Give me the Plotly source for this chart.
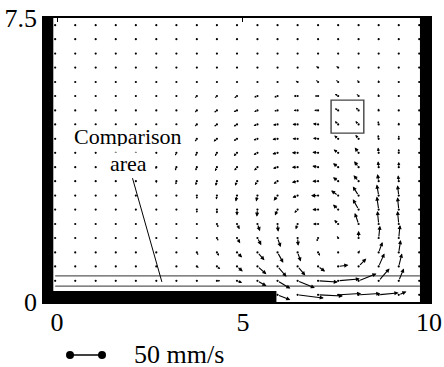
import math
import plotly.graph_objects as go

# ---------------- data ----------------
# grid positions (data units)
x_grid = [-0.05, 0.49, 1.04, 1.58, 2.12, 2.67, 3.21, 3.76, 4.30, 4.84,
          5.39, 5.93, 6.47, 7.02, 7.56, 8.11, 8.65, 9.19, 9.74]
y_grid = [7.31, 6.94, 6.56, 6.19, 5.81, 5.44, 5.06, 4.69, 4.31, 3.94,
          3.56, 3.19, 2.81, 2.44, 2.06, 1.69, 1.31, 0.94, 0.56, 0.19]

N = None
# horizontal velocity (mm/s), rows top -> bottom
U = [
    [0]*19,
    [0]*19,
    [0,0,0,0,0,0,-2,-2,-2,-2,-2,-2,-2,-2,-2,0,0,0,0],
    [0,0,0,0,0,0,-3,-3,-3,-3,-3,-3,-3,-3,-3,0,0,0,0],
    [0,0,0,0,0,0,0,-2,-3,-2,-3,-3,-3,-3,-3,-2,0,0,0],
    [0,0,0,0,0,0,-2,-3,-3,-4,-5,-5,-6,-5,-5,-3,-1,0,0],
    [0,0,0,0,0,-1,-2,-3,-4,-5,-5,-5,-6,-6,-5,-4,-1,0,0],
    [0,0,0,0,0,-1,-2,-3,-4,-5,-6,-7,-8,-8,-5,-5,-1,0,0],
    [0,0,0,0,0,-1,-2,-3,-5,-5,-6,-8,-8,-8,-6,-5,-1,0,0],
    [0,0,0,0,0,-1,-2,-2,-3,-5,-6,-8,-9,-9,-7,-6,-1,0,0],
    [0,0,0,0,0,-1,-2,-2,-3,-4,-5,-7,-9,-9,-8,-7,-1,0,0],
    [0,0,0,0,0,0,-1,-2,-2,-3,-4,-6,-9,-9,-8,-8,-2,-1,0],
    [0,0,0,0,0,0,0,0,-1,-2,-2,-6,-8,-11,-11,-9,-3,-2,0],
    [0,0,0,0,0,0,0,0,0,0,-1,-4,-5,-9,-8,-9,-3,-2,0],
    [0,0,0,0,0,0,1,2,2,4,4,1,-3,-8,-6,-6,-2,-2,0],
    [0,0,0,0,0,0,1,2,2,5,6,5,1,-2,-2,0,2,2,0],
    [0,0,0,0,0,0,2,2,3,8,11,9,5,3,0,2,6,3,0],
    [0,0,0,0,0,1,2,3,5,9,14,14,12,11,16,12,9,5,0],
    [0,0,0,1,2,2,2,3,5,8,14,20,27,31,34,28,17,8,0],
    [N,N,N,N,N,N,N,N,N,N,N,20,41,39,36,34,31,12,0],
]
# vertical velocity (mm/s), rows top -> bottom
V = [
    [0]*19,
    [0]*19,
    [0,0,0,0,0,0,0,0,0,0,0,0,0,0,2,2,0,0,0],
    [0,0,0,0,0,0,0,0,0,0,0,0,0,2,2,0,0,0,0],
    [0,0,0,0,0,0,0,0,0,0,0,0,2,3,3,3,3,0,0],
    [0,0,0,0,0,0,-2,-3,-3,-3,-2,-2,0,0,3,3,3,0,0],
    [0,0,0,0,0,-2,-2,-3,-3,-2,-2,-1,0,0,3,4,3,0,0],
    [0,0,0,0,0,-2,-2,-3,-3,-3,-2,-1,0,1,5,5,5,3,0],
    [0,0,0,0,0,-2,-3,-4,-4,-3,-2,-1,0,1,5,6,6,5,0],
    [0,0,0,0,-1,-2,-4,-5,-5,-5,-3,-2,0,1,5,8,8,6,0],
    [0,0,0,0,-2,-3,-5,-5,-6,-5,-5,-2,0,2,6,9,9,8,0],
    [0,0,0,0,-2,-3,-5,-6,-7,-7,-6,-4,-2,0,6,9,11,9,0],
    [0,0,0,0,0,0,-2,-5,-6,-9,-9,-8,-3,0,8,14,17,16,0],
    [0,0,0,0,0,0,-2,-5,-6,-9,-11,-9,-5,0,8,16,20,19,0],
    [0,0,0,0,0,0,-1,-2,-5,-8,-11,-12,-8,0,6,17,20,20,0],
    [0,0,0,0,0,0,-1,-2,-4,-8,-11,-14,-12,-5,3,11,19,20,0],
    [0,0,0,0,0,0,-2,-4,-5,-8,-12,-16,-14,-5,0,3,16,19,0],
    [0,0,0,0,0,0,-1,-2,-4,-8,-12,-16,-14,-8,2,12,20,20,0],
    [0,0,0,0,0,0,0,0,0,-3,-8,-12,-11,-2,3,11,19,19,0],
    [N,N,N,N,N,N,N,N,N,N,N,-8,-5,-2,2,2,3,5,0],
]

scale_ref = 50            # mm/s of the reference arrow
vec_scale = 0.86 / 50     # data units per mm/s
scale_x0 = 0.35           # start of reference arrow
scale_label = "50 mm/s"

x_ticks = [0, 5, 10]
y_ticks = [0, 7.5]
y_ticktext = ["0", "7.5"]

# geometry of the channel sketch (data units)
left_wall = (-0.35, -0.10)
right_wall = (9.76, 10.03)
step = (-0.35, 5.90, 0.0, 0.29)
comp_lines_y = [0.42, 0.69]
comp_lines_x = (-0.05, 9.76)
probe_box = (7.37, 8.25, 4.46, 5.33)
leader = ((2.03, 3.27), (2.82, 0.53))

FONT = "Liberation Serif"

fig = go.Figure()

# grid dots
dx, dy = [], []
for i, yv in enumerate(y_grid):
    for j, xv in enumerate(x_grid):
        if U[i][j] is not None:
            dx.append(xv)
            dy.append(yv)
fig.add_trace(go.Scatter(x=dx, y=dy, mode="markers",
                         marker=dict(size=2.2, color="black", line=dict(width=0)),
                         hoverinfo="skip", showlegend=False))

annotations = []
px_per_mm = 32 / 50
for i, yv in enumerate(y_grid):
    for j, xv in enumerate(x_grid):
        u, v = U[i][j], V[i][j]
        if u is None:
            continue
        L = math.hypot(u, v) * px_per_mm
        if L < 1.2:
            continue
        s = max(0.3, min(0.75, L / 9))
        annotations.append(dict(
            x=xv + u * vec_scale, y=yv + v * vec_scale,
            ax=xv, ay=yv, xref="x", yref="y", axref="x", ayref="y",
            text="", showarrow=True, arrowhead=2, arrowsize=s,
            arrowwidth=1.1, arrowcolor="black", standoff=0))

# text labels
annotations.append(dict(x=1.91, y=4.38, xref="x", yref="y", text="Comparison",
                        showarrow=False, font=dict(family=FONT, size=22, color="black"),
                        bgcolor="white", borderpad=0, height=20))
annotations.append(dict(x=1.92, y=3.68, xref="x", yref="y", text="area",
                        showarrow=False, font=dict(family=FONT, size=22, color="black"),
                        bgcolor="white", borderpad=0, height=20))
annotations.append(dict(x=2.04, y=0.1, xref="x2", yref="y2", text=scale_label,
                        xanchor="left", showarrow=False, height=24, borderpad=0,
                        font=dict(family=FONT, size=26, color="black")))

# legend reference arrow (dot-ended)
fig.add_trace(go.Scatter(x=[scale_x0, scale_x0 + scale_ref * vec_scale], y=[0, 0],
                         xaxis="x2", yaxis="y2", mode="lines+markers",
                         line=dict(color="black", width=1.5),
                         marker=dict(size=8, color="black"),
                         hoverinfo="skip", showlegend=False, cliponaxis=False))

shapes = []
shapes.append(dict(type="rect", xref="x", yref="y", x0=left_wall[0], x1=left_wall[1],
                   y0=0, y1=7.5, fillcolor="black", line=dict(width=0)))
shapes.append(dict(type="rect", xref="x", yref="y", x0=right_wall[0], x1=right_wall[1],
                   y0=0, y1=7.5, fillcolor="black", line=dict(width=0)))
shapes.append(dict(type="rect", xref="x", yref="y", x0=step[0], x1=step[1],
                   y0=step[2], y1=step[3], fillcolor="black", line=dict(width=0)))
for yl in comp_lines_y:
    shapes.append(dict(type="line", xref="x", yref="y", x0=comp_lines_x[0],
                       x1=comp_lines_x[1], y0=yl, y1=yl,
                       line=dict(color="#5a5a5a", width=1.4)))
shapes.append(dict(type="rect", xref="x", yref="y", x0=probe_box[0], x1=probe_box[1],
                   y0=probe_box[2], y1=probe_box[3],
                   line=dict(color="#444444", width=1.4)))
shapes.append(dict(type="line", xref="x", yref="y", x0=leader[0][0], y0=leader[0][1],
                   x1=leader[1][0], y1=leader[1][1], line=dict(color="black", width=1)))

fig.update_layout(
    width=444, height=367,
    margin=dict(l=44, r=14, t=18, b=0),
    paper_bgcolor="white", plot_bgcolor="white",
    font=dict(family=FONT, color="black"),
    showlegend=False,
    annotations=annotations,
    shapes=shapes,
    xaxis=dict(range=[-0.35, 10.03], domain=[0, 1], anchor="y", automargin=False,
               tickvals=x_ticks, ticks="inside", ticklen=4, tickwidth=1,
               tickcolor="black", showline=True, linecolor="black", linewidth=1.5,
               mirror="ticks", showgrid=False, zeroline=False, ticklabelstandoff=-4,
               tickfont=dict(family=FONT, size=26, color="black")),
    yaxis=dict(range=[0, 7.5], domain=[0.18625, 1], anchor="x", automargin=False,
               tickvals=y_ticks, ticktext=y_ticktext, ticks="inside", ticklen=4,
               tickcolor="black", showline=True, linecolor="black", linewidth=1.5,
               mirror="ticks", showgrid=False, zeroline=False,
               tickfont=dict(family=FONT, size=26, color="black")),
    xaxis2=dict(matches="x", anchor="y2", domain=[0, 1], visible=False),
    yaxis2=dict(range=[-1, 1], domain=[0, 0.0688], anchor="x2", visible=False),
)

fig.write_html("out.html", config={"displayModeBar": False},
               post_script="document.body.style.margin='0';document.body.style.overflow='hidden';")
